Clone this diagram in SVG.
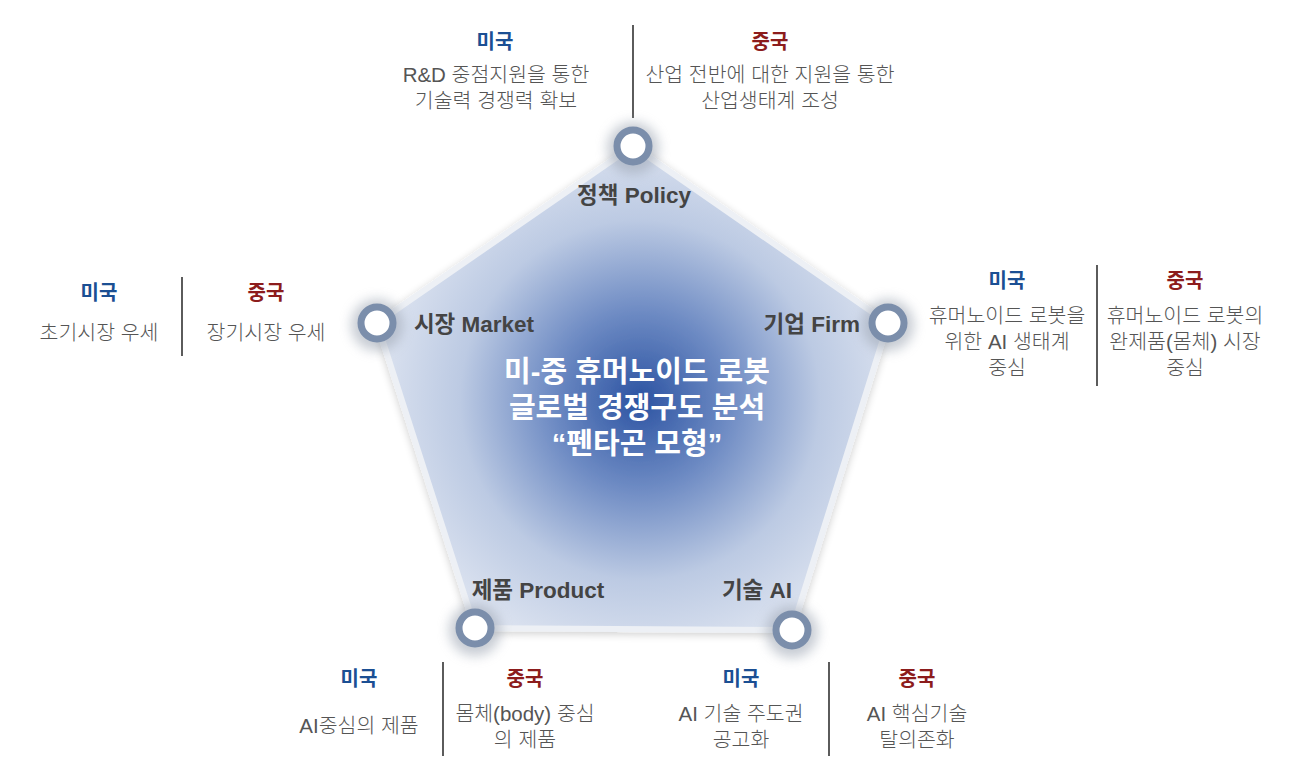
<svg xmlns="http://www.w3.org/2000/svg" width="1293" height="770" viewBox="0 0 1293 770">
<style>
text{font-family:"Liberation Sans","Noto Sans CJK KR",sans-serif;text-anchor:middle}
.us{fill:#1b4f93;font-weight:700;font-size:20px}
.cn{fill:#8c1c1c;font-weight:700;font-size:20px}
.d{fill:#555;font-size:20.5px;font-weight:300}
.lab{fill:#444;font-weight:700;font-size:22.5px}
.ttl{fill:#fff;font-weight:700;font-size:29px}
.sep{stroke:#333;stroke-width:1.6}
.ring{fill:#fff;stroke:#7b8eab;stroke-width:7}
.glow{fill:#9aa3b0;opacity:0.55;filter:url(#blur)}
</style>
<defs>
<radialGradient id="pg" cx="640" cy="400" r="300" gradientUnits="userSpaceOnUse">
<stop offset="0" stop-color="#2c53a2"/>
<stop offset="0.3" stop-color="#6f8cc4"/>
<stop offset="0.6" stop-color="#bccae3"/>
<stop offset="1" stop-color="#e9edf5"/>
</radialGradient>
<filter id="blur" x="-50%" y="-50%" width="200%" height="200%"><feGaussianBlur stdDeviation="6"/></filter>
<filter id="sh" x="-10%" y="-10%" width="120%" height="120%"><feGaussianBlur in="SourceAlpha" stdDeviation="4"/><feOffset dx="0" dy="2"/><feComponentTransfer><feFuncA type="linear" slope="0.2"/></feComponentTransfer><feMerge><feMergeNode/><feMergeNode in="SourceGraphic"/></feMerge></filter>
</defs>
<rect width="1293" height="770" fill="#fff"/>
<g id="pentagon">
<polygon points="633,146 888,323 792,630 475,628 377,323" fill="url(#pg)" stroke="#edf0f5" stroke-width="6" stroke-linejoin="round" filter="url(#sh)"/>
<text class="ttl" x="637" y="382">미-중 휴머노이드 로봇</text>
<text class="ttl" x="637" y="418">글로벌 경쟁구도 분석</text>
<text class="ttl" x="637" y="454">“펜타곤 모형”</text>
</g>
<g id="connectors">
<line class="sep" x1="633" y1="25" x2="633" y2="118"/>
<line class="sep" x1="182" y1="277" x2="182" y2="356"/>
<line class="sep" x1="1097" y1="265" x2="1097" y2="386"/>
<line class="sep" x1="443" y1="662" x2="443" y2="756"/>
<line class="sep" x1="829" y1="662" x2="829" y2="756"/>
</g>
<g id="node-policy">
<circle class="glow" cx="633" cy="148" r="26"/>
<circle class="ring" cx="633" cy="146" r="16"/>
<text class="lab" x="634" y="203">정책 Policy</text>
<text class="us" x="495" y="49">미국</text>
<text class="d" x="496" y="82">R&amp;D 중점지원을 통한</text>
<text class="d" x="496" y="108">기술력 경쟁력 확보</text>
<text class="cn" x="770" y="49">중국</text>
<text class="d" x="770" y="82">산업 전반에 대한 지원을 통한</text>
<text class="d" x="770" y="108">산업생태계 조성</text>
</g>
<g id="node-market">
<circle class="glow" cx="377" cy="325" r="26"/>
<circle class="ring" cx="377" cy="323" r="16"/>
<text class="lab" x="474" y="332">시장 Market</text>
<text class="us" x="99" y="300">미국</text>
<text class="d" x="99" y="340">초기시장 우세</text>
<text class="cn" x="266" y="300">중국</text>
<text class="d" x="266" y="340">장기시장 우세</text>
</g>
<g id="node-firm">
<circle class="glow" cx="888" cy="325" r="26"/>
<circle class="ring" cx="888" cy="323" r="16"/>
<text class="lab" x="860" y="332" style="text-anchor:end">기업 Firm</text>
<text class="us" x="1007" y="288">미국</text>
<text class="d" x="1007" y="323">휴머노이드 로봇을</text>
<text class="d" x="1007" y="349">위한 AI 생태계</text>
<text class="d" x="1007" y="375">중심</text>
<text class="cn" x="1185" y="288">중국</text>
<text class="d" x="1185" y="323">휴머노이드 로봇의</text>
<text class="d" x="1185" y="349">완제품(몸체) 시장</text>
<text class="d" x="1185" y="375">중심</text>
</g>
<g id="node-product">
<circle class="glow" cx="475" cy="630" r="26"/>
<circle class="ring" cx="475" cy="628" r="16"/>
<text class="lab" x="538" y="598">제품 Product</text>
<text class="us" x="359" y="686">미국</text>
<text class="d" x="359" y="733">AI중심의 제품</text>
<text class="cn" x="525" y="686">중국</text>
<text class="d" x="525" y="721">몸체(body) 중심</text>
<text class="d" x="525" y="747">의 제품</text>
</g>
<g id="node-ai">
<circle class="glow" cx="792" cy="632" r="26"/>
<circle class="ring" cx="792" cy="630" r="16"/>
<text class="lab" x="757" y="598">기술 AI</text>
<text class="us" x="741" y="686">미국</text>
<text class="d" x="741" y="721">AI 기술 주도권</text>
<text class="d" x="741" y="747">공고화</text>
<text class="cn" x="917" y="686">중국</text>
<text class="d" x="917" y="721">AI 핵심기술</text>
<text class="d" x="917" y="747">탈의존화</text>
</g>
</svg>
